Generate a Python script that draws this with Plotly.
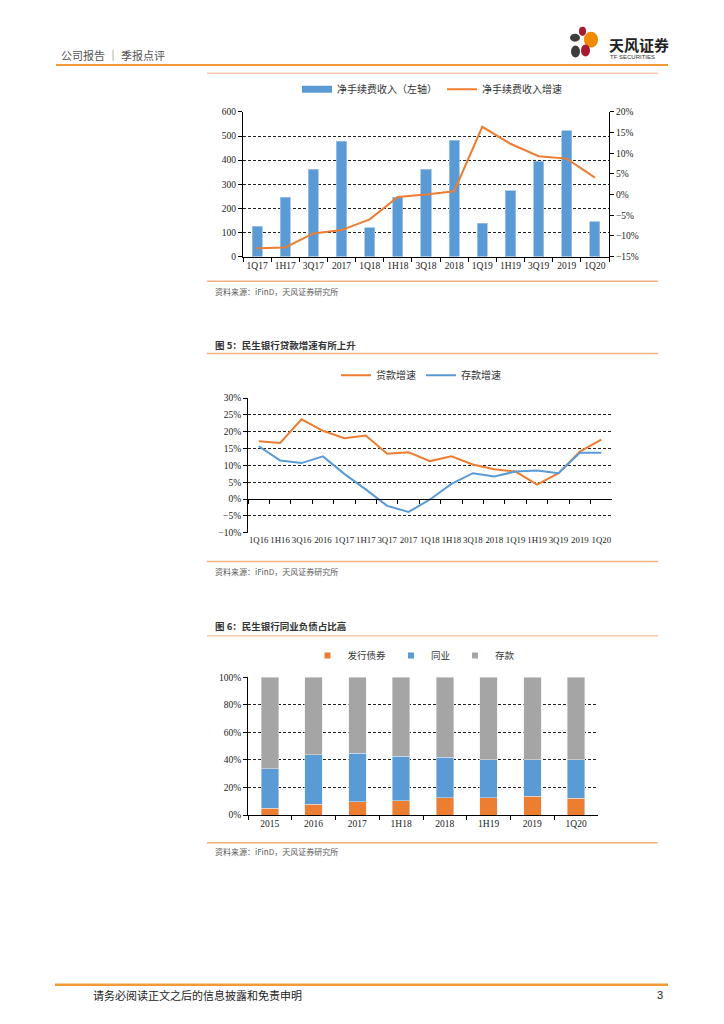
import plotly.graph_objects as go

W, H = 724, 1024
def px(x): return x / W
def py(y): return 1 - y / H

# ---------------- data ----------------
c1_cats = ["1Q17", "1H17", "3Q17", "2017", "1Q18", "1H18", "3Q18", "2018", "1Q19", "1H19", "3Q19", "2019", "1Q20"]
c1_fee = [125, 245, 362, 478, 120, 245, 362, 482, 138, 272, 395, 522, 145]
c1_growth = [-13.0, -12.8, -9.4, -8.6, -6.0, -0.6, 0.0, 0.8, 16.4, 12.3, 9.3, 8.7, 4.1]

c2_cats = ["1Q16", "1H16", "3Q16", "2016", "1Q17", "1H17", "3Q17", "2017", "1Q18", "1H18",
           "3Q18", "2018", "1Q19", "1H19", "3Q19", "2019", "1Q20"]
c2_loan = [17.2, 16.7, 23.7, 20.3, 18.1, 18.9, 13.5, 13.9, 11.3, 12.7, 10.3, 8.9, 8.2, 4.3, 7.7, 14.1, 17.7]
c2_dep = [15.7, 11.5, 10.7, 12.7, 7.5, 2.9, -2.0, -3.8, -0.1, 4.5, 7.7, 6.7, 8.2, 8.5, 7.7, 13.8, 13.8]

c3_cats = ["2015", "2016", "2017", "1H18", "2018", "1H19", "2019", "1Q20"]
c3_bond = [4.8, 7.7, 9.6, 10.3, 12.5, 12.5, 13.7, 12.2]
c3_inter = [28.8, 35.9, 35.2, 32.4, 29.5, 27.5, 26.3, 27.8]
c3_dep = [66.4, 56.4, 55.2, 57.3, 58.0, 60.0, 60.0, 60.0]

# ---------------- style ----------------
BLUE = "#5B9BD5"
ORANGE = "#ED7D31"
GRAY = "#A5A5A5"
CJK = "Noto Sans CJK SC"
SERIF = "Liberation Serif"
tickfont = dict(family=SERIF, size=9.5, color="#222")
grid = dict(showgrid=True, gridcolor="#222", gridwidth=0.8, griddash="3px,2px")
axline = dict(showline=True, linecolor="#000", linewidth=1, ticks="outside", ticklen=4,
              tickcolor="#000", tickwidth=1)

fig = go.Figure()

# chart 1
fig.add_trace(go.Bar(x=c1_cats, y=c1_fee, name="净手续费收入（左轴）", marker_color=BLUE,
                     marker_line=dict(color="#9DC3E6", width=0.8), width=0.36,
                     xaxis="x", yaxis="y", showlegend=False))
fig.add_trace(go.Scatter(x=[None], y=[None], name="净手续费收入（左轴）", mode="lines",
                         line=dict(color=BLUE, width=7), xaxis="x", yaxis="y", legend="legend"))
fig.add_trace(go.Scatter(x=c1_cats, y=c1_growth, name="净手续费收入增速", mode="lines",
                         line=dict(color=ORANGE, width=2), xaxis="x", yaxis="y2", legend="legend"))

# chart 2
fig.add_trace(go.Scatter(x=c2_cats, y=c2_loan, name="贷款增速", mode="lines",
                         line=dict(color=ORANGE, width=2), xaxis="x2", yaxis="y3", legend="legend2"))
fig.add_trace(go.Scatter(x=c2_cats, y=c2_dep, name="存款增速", mode="lines",
                         line=dict(color=BLUE, width=2), xaxis="x2", yaxis="y3", legend="legend2"))
fig.add_trace(go.Scatter(x=c2_cats, y=c2_dep, mode="lines", opacity=0, showlegend=False,
                         hoverinfo="skip", xaxis="x4", yaxis="y3"))

# chart 3
for vals, nm, col in [(c3_bond, "发行债券", ORANGE), (c3_inter, "同业", BLUE), (c3_dep, "存款", GRAY)]:
    fig.add_trace(go.Bar(x=c3_cats, y=vals, name=nm, marker_color=col, width=0.4,
                         xaxis="x3", yaxis="y4", showlegend=False))
    fig.add_trace(go.Scatter(x=[None], y=[None], name=nm, mode="markers",
                             marker=dict(symbol="square", size=6, color=col),
                             xaxis="x3", yaxis="y4", legend="legend3"))

c2_dom = [py(533), py(397)]
c2_range = [-10, 30]
zero_pos = c2_dom[0] + (0 - c2_range[0]) / (c2_range[1] - c2_range[0]) * (c2_dom[1] - c2_dom[0])

legfont = dict(family=CJK, size=10, color="#333")

fig.update_layout(
    width=W, height=H, margin=dict(l=0, r=0, t=0, b=0),
    paper_bgcolor="white", plot_bgcolor="white", barmode="stack",
    font=dict(family=CJK, color="#333"),
    xaxis=dict(domain=[px(243), px(609)], anchor="y", type="category", tickson="boundaries",
               range=[-0.5, len(c1_cats) - 0.5], tickfont=tickfont, tickangle=0, **axline),
    yaxis=dict(domain=[py(254), py(108)], anchor="x", range=[0, 600], dtick=100,
               tickfont=tickfont, zeroline=False, **grid, **axline),
    yaxis2=dict(overlaying="y", side="right", anchor="x", range=[-15, 20], dtick=5,
                ticksuffix="%", tickfont=tickfont, showgrid=False, zeroline=False, **axline),
    xaxis2=dict(domain=[px(248), px(612)], anchor="y3", type="category", showline=False,
                range=[-0.5, len(c2_cats) - 0.5],
                ticks="", tickfont=dict(family=SERIF, size=8.8, color="#222"), tickangle=0),
    yaxis3=dict(domain=c2_dom, anchor="x2", range=c2_range, dtick=5, ticksuffix="%",
                tickfont=tickfont, zeroline=False, **grid, **axline),
    xaxis4=dict(overlaying="x2", matches="x2", anchor="free", position=zero_pos, type="category",
                tickson="boundaries", showticklabels=False, showgrid=False, **axline),
    xaxis3=dict(domain=[px(248), px(598)], anchor="y4", type="category", tickson="boundaries",
                range=[-0.5, len(c3_cats) - 0.5], tickfont=tickfont, tickangle=0, **axline),
    yaxis4=dict(domain=[py(818), py(679)], anchor="x3", range=[0, 100], dtick=20, ticksuffix="%",
                tickfont=tickfont, zeroline=False, **grid, **axline),
    legend=dict(x=px(432), y=py(85), xanchor="center", yanchor="middle", orientation="h",
                font=legfont, bgcolor="rgba(0,0,0,0)", traceorder="normal"),
    legend2=dict(x=px(421), y=py(374), xanchor="center", yanchor="middle", orientation="h",
                 font=legfont, bgcolor="rgba(0,0,0,0)", traceorder="normal"),
    legend3=dict(x=px(414), y=py(657), xanchor="center", yanchor="middle", orientation="h",
                 font=dict(family=CJK, size=9.5, color="#333"), bgcolor="rgba(0,0,0,0)",
                 traceorder="normal", itemwidth=30, tracegroupgap=0),
)

shapes = []
def hline(x0, x1, y, color, w):
    shapes.append(dict(type="line", xref="paper", yref="paper", x0=px(x0), x1=px(x1),
                       y0=py(y), y1=py(y), line=dict(color=color, width=w)))

hline(56, 668, 60.5, "#F29A38", 2)
hline(207, 658, 69, "#F8CBAD", 1.5)
hline(207, 658, 279, "#F4B183", 1.5)
hline(207, 658, 352, "#F4B183", 1.5)
hline(207, 658, 562, "#F4B183", 1.5)
hline(207, 658, 637, "#F8CBAD", 1.5)
hline(207, 658, 846, "#F4B183", 1.5)
hline(55, 668, 989.5, "#F29A38", 2.5)

def ell(x0, x1, y0, y1, color):
    shapes.append(dict(type="circle", xref="paper", yref="paper", x0=px(x0), x1=px(x1),
                       y0=py(y1), y1=py(y0), fillcolor=color, line=dict(width=0)))

ell(579, 586, 22, 31, "#A6192E")
ell(570, 580, 29, 37, "#3C3C3C")
ell(584, 598, 27, 43, "#F08A00")
ell(571, 580, 41, 53, "#3C3C3C")
ell(581, 590, 40, 52, "#A6192E")

fig.update_layout(shapes=shapes)

def txt(x, y, s, size, color="#333", anchor="left", family=CJK):
    fig.add_annotation(xref="paper", yref="paper", x=px(x), y=py(y), text=s, showarrow=False,
                       xanchor=anchor, yanchor="middle", font=dict(family=family, size=size, color=color))

txt(59, 50.5, "公司报告 ｜ 季报点评", 11, "#555")
txt(607, 40, "<b>天风证券</b>", 15, "#222")
txt(608, 53, "TF SECURITIES", 6, "#333", family="Liberation Sans")
txt(213, 289, "资料来源：iFinD，天风证券研究所", 8, "#595959")
txt(213, 343, "<b>图 5：民生银行贷款增速有所上升</b>", 9.5, "#333")
txt(213, 572, "资料来源：iFinD，天风证券研究所", 8, "#595959")
txt(213, 627, "<b>图 6：民生银行同业负债占比高</b>", 9.5, "#333")
txt(213, 855, "资料来源：iFinD，天风证券研究所", 8, "#595959")
txt(91, 999.5, "请务必阅读正文之后的信息披露和免责申明", 11, "#222")
txt(665, 999.5, "3", 11, "#222", anchor="right", family="Liberation Sans")

fig.write_html("out.html", config={"displayModeBar": False},
               post_script="document.body.style.margin='0';document.body.style.overflow='hidden';")
